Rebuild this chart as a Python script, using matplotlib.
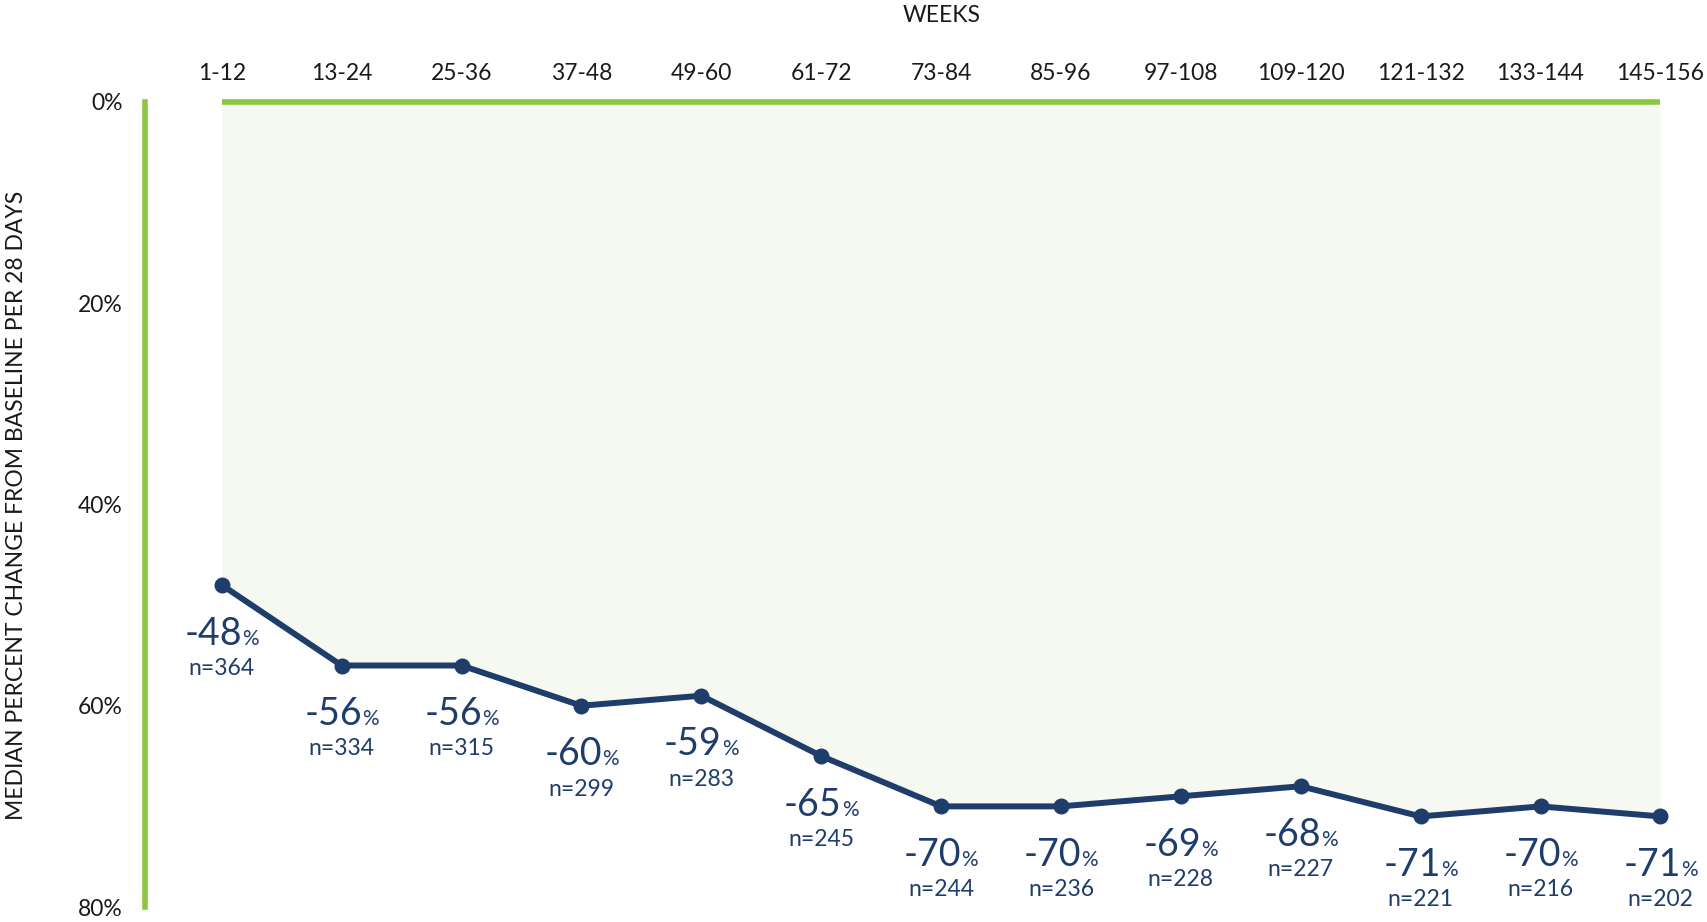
import matplotlib
matplotlib.use("Agg")
import matplotlib.pyplot as plt
from matplotlib.offsetbox import TextArea, HPacker, AnnotationBbox
import numpy as np

# data
weeks = ["1-12", "13-24", "25-36", "37-48", "49-60", "61-72", "73-84",
         "85-96", "97-108", "109-120", "121-132", "133-144", "145-156"]
median_change = [-48, -56, -56, -60, -59, -65, -70, -70, -69, -68, -71, -70, -71]
n_patients = [364, 334, 315, 299, 283, 245, 244, 236, 228, 227, 221, 216, 202]
y_ticks = [0, -20, -40, -60, -80]

NAVY = "#1f3d6b"
GREEN = "#8dc63f"
FILL = "#f6f9f1"

plt.rcParams["font.family"] = ["Lato", "DejaVu Sans"]

fig = plt.figure(figsize=(17.08, 9.22), dpi=100)
ax = fig.add_axes([145 / 1708, 1 - 907 / 922, (1700 - 145) / 1708, (907 - 102) / 922])

x = np.arange(len(weeks))

# fill between 0% and the line
ax.fill_between(x, median_change, 0, color=FILL, linewidth=0, zorder=1)
ax.plot([x[0], x[-1]], [0, 0], color=GREEN, linewidth=4, solid_capstyle="butt",
        clip_on=False, zorder=2)
ax.plot(x, median_change, color=NAVY, linewidth=4.3, marker="o", markersize=10.5,
        clip_on=False, zorder=3)

# labels under each point: big value, small %, n below
for xi, val, n in zip(x, median_change, n_patients):
    num = TextArea(f"{val}", textprops=dict(color=NAVY, fontsize=27))
    pct = TextArea("%", textprops=dict(color=NAVY, fontsize=15))
    box = HPacker(children=[num, pct], align="baseline", pad=0, sep=0)
    ab = AnnotationBbox(box, (xi, val), xybox=(0, -35), xycoords="data",
                        boxcoords="offset points", frameon=False,
                        box_alignment=(0.5, 0.5), annotation_clip=False)
    ax.add_artist(ab)
    ax.annotate(f"n={n}", (xi, val), xytext=(0, -60), textcoords="offset points",
                ha="center", va="center", color=NAVY, fontsize=16.5,
                annotation_clip=False)

ax.set_xlim(-0.64, 12.33)
ax.set_ylim(-80, 0)

ax.set_xticks(x)
ax.set_xticklabels(weeks)
ax.xaxis.tick_top()
ax.tick_params(axis="x", length=0, pad=13, labelsize=16.5, colors="#1a1a1a")

ax.set_yticks(y_ticks)
ax.set_yticklabels([f"{abs(t)}%" for t in y_ticks])
ax.tick_params(axis="y", length=0, pad=16, labelsize=16.5, colors="#1a1a1a")

for side in ["top", "right", "bottom"]:
    ax.spines[side].set_visible(False)
ax.spines["left"].set_color(GREEN)
ax.spines["left"].set_linewidth(4)

fig.text((222 + 1661) / 2 / 1708, 1 - 16 / 922, "WEEKS", ha="center", va="center",
         fontsize=16.5, color="#1a1a1a")
fig.text(17 / 1708, 1 - 505 / 922, "MEDIAN PERCENT CHANGE FROM BASELINE PER 28 DAYS",
         rotation=90, ha="center", va="center", fontsize=16.5, color="#1a1a1a")

fig.savefig("out.png", dpi=100, facecolor="white")
